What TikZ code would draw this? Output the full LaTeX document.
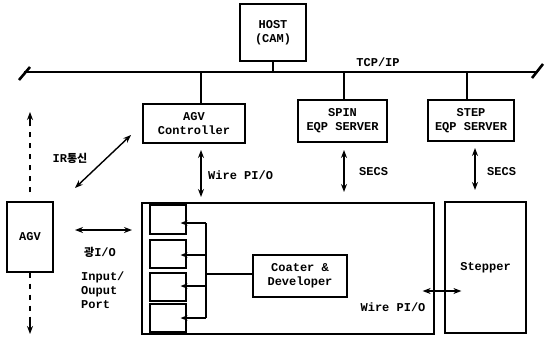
\documentclass[tikz,border=0pt]{standalone}
\usepackage{fontspec}
\setmonofont{Liberation Mono}
\newfontfamily\krfont{Noto Sans CJK KR}
\usetikzlibrary{arrows.meta}
\begin{document}
\begin{tikzpicture}[x=1pt,y=-1pt,
  box/.style={draw, line width=1.2pt, inner sep=0pt, align=center,
    font=\ttfamily\bfseries\fontsize{12}{14}\selectfont},
  txt/.style={inner sep=0pt, align=center, font=\ttfamily\bfseries\fontsize{12}{14}\selectfont},
  conn/.style={line width=1.4pt},
  bus/.style={line width=2.6pt},
  arr/.style={line width=1.4pt, {Stealth[length=8pt,width=6pt]}-{Stealth[length=8pt,width=6pt]}},
  onearr/.style={line width=1.4pt, -{Stealth[length=8pt,width=6pt]}},
  inarr/.style={line width=1.2pt, -{Stealth[length=7pt,width=5.5pt]}},
  dashline/.style={line width=1.2pt, dash pattern=on 5pt off 6pt}]
\useasboundingbox (0,0) rectangle (545,337);

% bus
\coordinate (busL) at (24,72);
\coordinate (busR) at (538,72);
\coordinate (tickL1) at (19,80);
\coordinate (tickL2) at (30,67);
\coordinate (tickR1) at (532,78);
\coordinate (tickR2) at (543,64);
\draw[bus] (busL) -- (busR);
\draw[bus] (tickL1) -- (tickL2);
\draw[bus] (tickR1) -- (tickR2);
\node[txt, anchor=center] (tcp) at (378,62) {TCP/IP};

% boxes
\node[box, minimum width=66pt, minimum height=57pt] (host) at (273,32.5) {HOST\\(CAM)};
\node[box, minimum width=102pt, minimum height=39pt] (ctrl) at (194,123.5) {AGV\\Controller};
\node[box, minimum width=89pt, minimum height=42pt] (spin) at (342.5,121) {SPIN\\EQP SERVER};
\node[box, minimum width=86pt, minimum height=41pt] (step) at (471,120.5) {STEP\\EQP SERVER};

\draw[conn] (host.south) -- (host.south |- busL);
\draw[conn] (ctrl.north -| 201,0) -- (201,72);
\draw[conn] (spin.north -| 344,0) -- (344,72);
\draw[conn] (step.north -| 467,0) -- (467,72);

\node[box, minimum width=292pt, minimum height=131pt] (big) at (288,268.5) {};
\node[box, minimum width=81pt, minimum height=131pt] (stepper) at (485.5,267.5) {Stepper};
\node[box, minimum width=46pt, minimum height=70pt] (agv) at (30,237) {AGV};

% vertical links to big box
\coordinate (wtop) at (201,150);
\coordinate (s1top) at (344,150);
\coordinate (s2top) at (475,148);
\draw[arr] (wtop) -- (201,197);
\draw[arr] (s1top) -- (344,192);
\draw[arr] (s2top) -- (475,190);
\node[txt, anchor=west] (wirelbl) at (208,175) {Wire PI/O};
\node[txt, anchor=west] (secs1) at (359,172) {SECS};
\node[txt, anchor=west] (secs2) at (487,172) {SECS};

% small boxes
\node[box, minimum width=36pt, minimum height=29pt] (sb1) at (168,219.5) {};
\node[box, minimum width=36pt, minimum height=28pt] (sb2) at (168,254) {};
\node[box, minimum width=36pt, minimum height=28pt] (sb3) at (168,287) {};
\node[box, minimum width=36pt, minimum height=28pt] (sb4) at (168,318) {};
\node[box, minimum width=94pt, minimum height=42pt] (coater) at (300,276) {Coater \&\\Developer};

\coordinate (v1) at (206,223);
\coordinate (v2) at (206,255);
\coordinate (v3) at (206,286);
\coordinate (v4) at (206,318);
\coordinate (vc) at (206,274);
\draw[line width=1.2pt] (v1) -- (v4);
\draw[inarr, shorten >=-6pt] (v1) -- (sb1.east |- v1);
\draw[inarr, shorten >=-6pt] (v2) -- (sb2.east |- v2);
\draw[inarr, shorten >=-6pt] (v3) -- (sb3.east |- v3);
\draw[inarr, shorten >=-6pt] (v4) -- (sb4.east |- v4);
\draw[line width=1.2pt] (vc) -- (coater.west |- vc);

% big box to stepper
\draw[arr, shorten <=-12pt, shorten >=-17pt] (big.east |- 0,291) -- (stepper.west |- 0,291);
\node[txt] (wire2) at (393,307) {Wire PI/O};

% AGV side
\coordinate (agvUp) at (30,112);
\coordinate (agvDn) at (30,334);
\draw[dashline, shorten <=9pt] (agv.north) -- (30,122);
\draw[onearr] (30,125) -- (agvUp);
\draw[dashline] (agv.south) -- (30,322);
\draw[onearr] (30,320) -- (agvDn);

\coordinate (irA) at (75,188);
\coordinate (irB) at (131,135);
\draw[arr] (irA) -- (irB);
\node[txt] (irlbl) at (70,158) {IR{\krfont\bfseries\fontsize{11}{12}\selectfont 통신}};

\coordinate (opA) at (75,230);
\coordinate (opB) at (132,230);
\draw[arr] (opA) -- (opB);
\node[txt] (oplbl) at (100,252) {{\krfont\bfseries\fontsize{11}{12}\selectfont 광}I/O};
\node[txt, anchor=north west, align=left] (iop) at (81,272) {Input/\\Ouput\\Port};
\end{tikzpicture}
\end{document}
